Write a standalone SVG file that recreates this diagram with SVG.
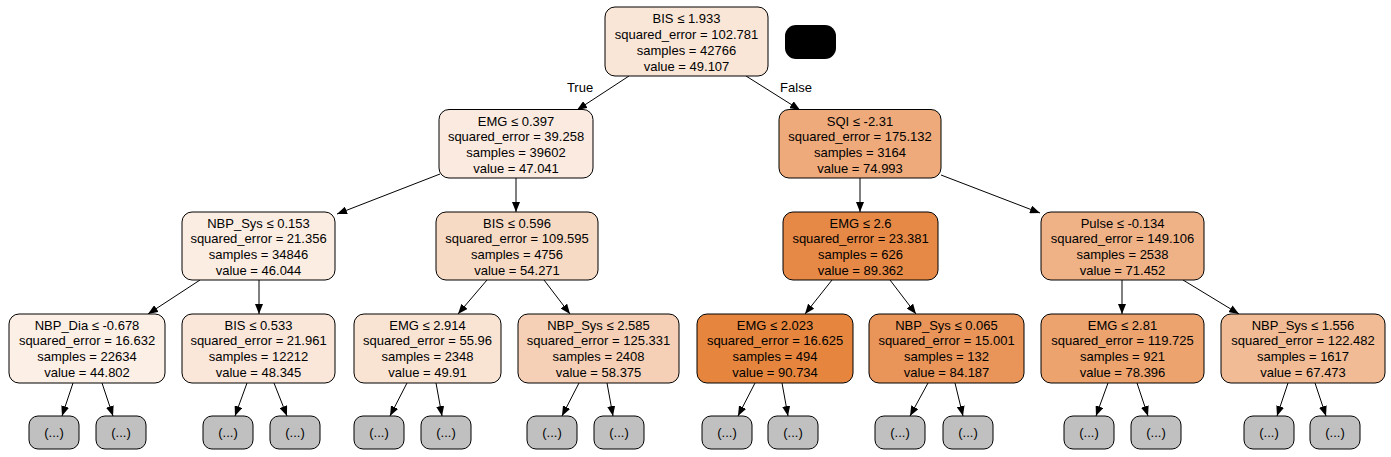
<svg xmlns="http://www.w3.org/2000/svg" width="1391" height="457" viewBox="0 0 1391 457">
<style>
text{font-family:"Liberation Sans",Arial,sans-serif;font-size:13px;fill:#000;text-anchor:middle}
.n{stroke:#000;stroke-width:1}
.leaf{fill:#c0c0c0;stroke:#000;stroke-width:1}
.e line{stroke:#000;stroke-width:1;marker-end:url(#ah)}
</style>
<defs>
<marker id="ah" markerWidth="10" markerHeight="8" refX="10" refY="4" orient="auto" markerUnits="userSpaceOnUse">
<path d="M0,0 L10,4 L0,8 z" fill="#000"/>
</marker>
</defs>
<rect width="1391" height="457" fill="#fff"/>
<g id="connectors" class="e">
<line x1="629" y1="76" x2="577" y2="110"/>
<line x1="746" y1="76" x2="800" y2="110"/>
<line x1="440" y1="174" x2="337" y2="214"/>
<line x1="516" y1="178" x2="516" y2="212"/>
<line x1="860" y1="178" x2="860" y2="212"/>
<line x1="941" y1="175" x2="1040" y2="213"/>
<line x1="200" y1="280" x2="148" y2="314"/>
<line x1="259" y1="280" x2="259" y2="314"/>
<line x1="487" y1="280" x2="458" y2="314"/>
<line x1="544" y1="280" x2="570" y2="314"/>
<line x1="832" y1="280" x2="805" y2="314"/>
<line x1="890" y1="280" x2="916" y2="314"/>
<line x1="1122" y1="280" x2="1122" y2="314"/>
<line x1="1183" y1="280" x2="1239" y2="314"/>
<line x1="73" y1="383" x2="62" y2="416"/>
<line x1="102" y1="383" x2="113" y2="416"/>
<line x1="247" y1="383" x2="235" y2="416"/>
<line x1="274" y1="383" x2="287" y2="416"/>
<line x1="407" y1="383" x2="390" y2="416"/>
<line x1="436" y1="383" x2="442" y2="416"/>
<line x1="579" y1="383" x2="562" y2="416"/>
<line x1="607" y1="383" x2="613" y2="416"/>
<line x1="755" y1="383" x2="738" y2="416"/>
<line x1="782" y1="383" x2="788" y2="416"/>
<line x1="928" y1="383" x2="910" y2="416"/>
<line x1="955" y1="383" x2="963" y2="416"/>
<line x1="1108" y1="383" x2="1096" y2="416"/>
<line x1="1137" y1="383" x2="1148" y2="416"/>
<line x1="1288" y1="383" x2="1277" y2="416"/>
<line x1="1315" y1="383" x2="1326" y2="416"/>
<text x="580" y="92">True</text>
<text x="796" y="92">False</text>
</g>
<g id="black"><rect x="785" y="25" width="51" height="34" rx="11" fill="#000"/></g>
<g id="n0"><rect class="n" x="605" y="7" width="163" height="69" rx="10" fill="#fae6d7"/>
<text x="686.5" y="23">BIS ≤ 1.933</text><text x="686.5" y="39">squared_error = 102.781</text><text x="686.5" y="55">samples = 42766</text><text x="686.5" y="71">value = 49.107</text></g>
<g id="n1"><rect class="n" x="439" y="109.5" width="154" height="68.5" rx="10" fill="#fbeadf"/>
<text x="516" y="125.5">EMG ≤ 0.397</text><text x="516" y="141.3">squared_error = 39.258</text><text x="516" y="157.1">samples = 39602</text><text x="516" y="172.9">value = 47.041</text></g>
<g id="n2"><rect class="n" x="779" y="109.5" width="162" height="68.5" rx="10" fill="#eeaa7a"/>
<text x="860" y="125.5">SQI ≤ -2.31</text><text x="860" y="141.3">squared_error = 175.132</text><text x="860" y="157.1">samples = 3164</text><text x="860" y="172.9">value = 74.993</text></g>
<g id="n3"><rect class="n" x="182" y="212" width="153" height="68" rx="10" fill="#fbede2"/>
<text x="258.5" y="227.5">NBP_Sys ≤ 0.153</text><text x="258.5" y="243.2">squared_error = 21.356</text><text x="258.5" y="258.9">samples = 34846</text><text x="258.5" y="274.6">value = 46.044</text></g>
<g id="n4"><rect class="n" x="436" y="212" width="162" height="68" rx="10" fill="#f7dac4"/>
<text x="517" y="227.5">BIS ≤ 0.596</text><text x="517" y="243.2">squared_error = 109.595</text><text x="517" y="258.9">samples = 4756</text><text x="517" y="274.6">value = 54.271</text></g>
<g id="n5"><rect class="n" x="783" y="212" width="155" height="68" rx="10" fill="#e78946"/>
<text x="860.5" y="227.5">EMG ≤ 2.6</text><text x="860.5" y="243.2">squared_error = 23.381</text><text x="860.5" y="258.9">samples = 626</text><text x="860.5" y="274.6">value = 89.362</text></g>
<g id="n6"><rect class="n" x="1041" y="212" width="163" height="68" rx="10" fill="#efb287"/>
<text x="1122.5" y="227.5">Pulse ≤ -0.134</text><text x="1122.5" y="243.2">squared_error = 149.106</text><text x="1122.5" y="258.9">samples = 2538</text><text x="1122.5" y="274.6">value = 71.452</text></g>
<g id="n7"><rect class="n" x="9" y="314" width="156" height="69" rx="10" fill="#fcefe6"/>
<text x="87" y="329.5">NBP_Dia ≤ -0.678</text><text x="87" y="345.3">squared_error = 16.632</text><text x="87" y="361.1">samples = 22634</text><text x="87" y="376.9">value = 44.802</text></g>
<g id="n8"><rect class="n" x="182" y="314" width="153" height="69" rx="10" fill="#fae7da"/>
<text x="258.5" y="329.5">BIS ≤ 0.533</text><text x="258.5" y="345.3">squared_error = 21.961</text><text x="258.5" y="361.1">samples = 12212</text><text x="258.5" y="376.9">value = 48.345</text></g>
<g id="n9"><rect class="n" x="354" y="314" width="147" height="69" rx="10" fill="#f9e4d4"/>
<text x="427.5" y="329.5">EMG ≤ 2.914</text><text x="427.5" y="345.3">squared_error = 55.96</text><text x="427.5" y="361.1">samples = 2348</text><text x="427.5" y="376.9">value = 49.91</text></g>
<g id="n10"><rect class="n" x="518" y="314" width="161" height="69" rx="10" fill="#f5d0b6"/>
<text x="598.5" y="329.5">NBP_Sys ≤ 2.585</text><text x="598.5" y="345.3">squared_error = 125.331</text><text x="598.5" y="361.1">samples = 2408</text><text x="598.5" y="376.9">value = 58.375</text></g>
<g id="n11"><rect class="n" x="697" y="314" width="156" height="69" rx="10" fill="#e6863e"/>
<text x="775" y="329.5">EMG ≤ 2.023</text><text x="775" y="345.3">squared_error = 16.625</text><text x="775" y="361.1">samples = 494</text><text x="775" y="376.9">value = 90.734</text></g>
<g id="n12"><rect class="n" x="869" y="314" width="155" height="69" rx="10" fill="#e99559"/>
<text x="946.5" y="329.5">NBP_Sys ≤ 0.065</text><text x="946.5" y="345.3">squared_error = 15.001</text><text x="946.5" y="361.1">samples = 132</text><text x="946.5" y="376.9">value = 84.187</text></g>
<g id="n13"><rect class="n" x="1041" y="314" width="163" height="69" rx="10" fill="#eca36e"/>
<text x="1122.5" y="329.5">EMG ≤ 2.81</text><text x="1122.5" y="345.3">squared_error = 119.725</text><text x="1122.5" y="361.1">samples = 921</text><text x="1122.5" y="376.9">value = 78.396</text></g>
<g id="n14"><rect class="n" x="1221" y="314" width="164" height="69" rx="10" fill="#f1bc95"/>
<text x="1303" y="329.5">NBP_Sys ≤ 1.556</text><text x="1303" y="345.3">squared_error = 122.482</text><text x="1303" y="361.1">samples = 1617</text><text x="1303" y="376.9">value = 67.473</text></g>
<g id="leaf1"><rect class="leaf" x="29" y="416" width="50" height="33" rx="9"/><text x="54" y="437">(...)</text></g>
<g id="leaf2"><rect class="leaf" x="96" y="416" width="50" height="33" rx="9"/><text x="121" y="437">(...)</text></g>
<g id="leaf3"><rect class="leaf" x="203" y="416" width="50" height="33" rx="9"/><text x="228" y="437">(...)</text></g>
<g id="leaf4"><rect class="leaf" x="270" y="416" width="50" height="33" rx="9"/><text x="295" y="437">(...)</text></g>
<g id="leaf5"><rect class="leaf" x="354" y="416" width="50" height="33" rx="9"/><text x="379" y="437">(...)</text></g>
<g id="leaf6"><rect class="leaf" x="421" y="416" width="50" height="33" rx="9"/><text x="446" y="437">(...)</text></g>
<g id="leaf7"><rect class="leaf" x="527" y="416" width="50" height="33" rx="9"/><text x="552" y="437">(...)</text></g>
<g id="leaf8"><rect class="leaf" x="594" y="416" width="50" height="33" rx="9"/><text x="619" y="437">(...)</text></g>
<g id="leaf9"><rect class="leaf" x="702" y="416" width="50" height="33" rx="9"/><text x="727" y="437">(...)</text></g>
<g id="leaf10"><rect class="leaf" x="768" y="416" width="50" height="33" rx="9"/><text x="793" y="437">(...)</text></g>
<g id="leaf11"><rect class="leaf" x="875" y="416" width="50" height="33" rx="9"/><text x="900" y="437">(...)</text></g>
<g id="leaf12"><rect class="leaf" x="943" y="416" width="50" height="33" rx="9"/><text x="968" y="437">(...)</text></g>
<g id="leaf13"><rect class="leaf" x="1064" y="416" width="50" height="33" rx="9"/><text x="1089" y="437">(...)</text></g>
<g id="leaf14"><rect class="leaf" x="1131" y="416" width="50" height="33" rx="9"/><text x="1156" y="437">(...)</text></g>
<g id="leaf15"><rect class="leaf" x="1244" y="416" width="50" height="33" rx="9"/><text x="1269" y="437">(...)</text></g>
<g id="leaf16"><rect class="leaf" x="1310" y="416" width="50" height="33" rx="9"/><text x="1335" y="437">(...)</text></g>
</svg>
